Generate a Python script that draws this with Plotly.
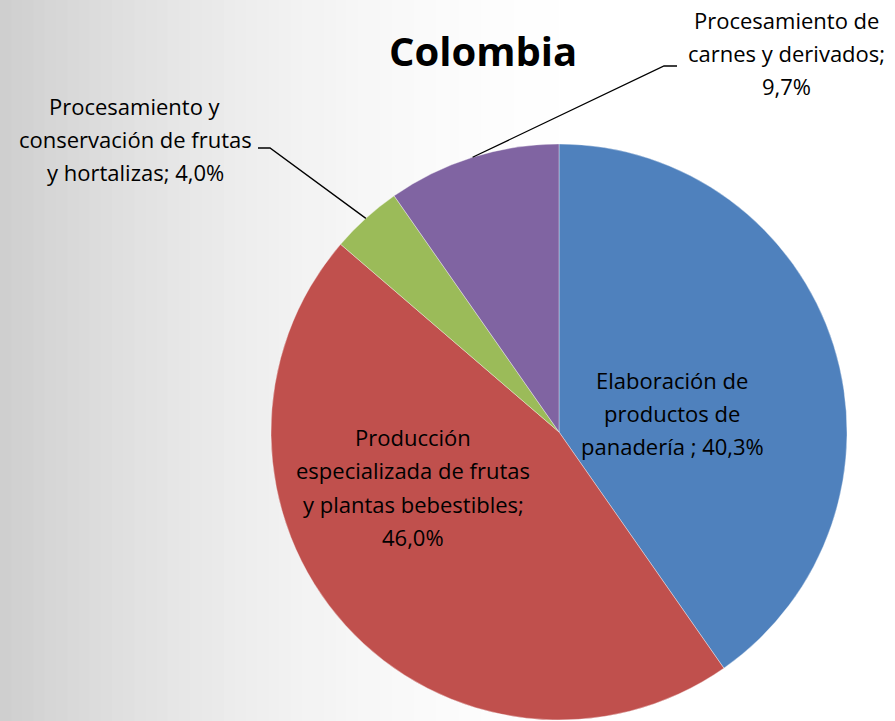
import math
import plotly.graph_objects as go

categories = [
    "Elaboración de productos de panadería ",
    "Producción especializada de frutas y plantas bebestibles",
    "Procesamiento y conservación de frutas y hortalizas",
    "Procesamiento de carnes y derivados",
]
values = [40.3, 46.0, 4.0, 9.7]
colors = ["#4F81BD", "#C0504D", "#9BBB59", "#8064A2"]
label_lines = [
    ["Elaboración de", "productos de", "panadería ; 40,3%"],
    ["Producción", "especializada de frutas", "y plantas bebestibles;", "46,0%"],
    ["Procesamiento y", "conservación de frutas", "y hortalizas; 4,0%"],
    ["Procesamiento de", "carnes y derivados;", "9,7%"],
]

W, H = 895, 721
cx, cy, r = 559, 432, 288  # pixel geometry of pie

FONT = "Open Sans"

fig = go.Figure()
fig.add_trace(go.Pie(
    labels=categories, values=values, sort=False, direction="clockwise",
    rotation=0, textinfo="none", hoverinfo="label+percent",
    marker=dict(colors=colors, line=dict(color="rgba(255,255,255,0.6)", width=0.6)),
    domain=dict(x=[(cx - r) / W, (cx + r) / W], y=[(H - cy - r) / H, (H - cy + r) / H]),
    showlegend=False,
))

# background gradient as vertical strips
shapes = []
n = 80
for i in range(n):
    x0 = i / n
    x1 = (i + 1) / n
    t = (i + 0.5) / n
    px = t * W
    frac = min(px / 620.0, 1.0)
    v = 206 + (255 - 206) * (1 - (1 - frac) ** 2)
    c = int(round(v))
    shapes.append(dict(type="rect", xref="paper", yref="paper", x0=x0, x1=x1 + 0.002,
                       y0=0, y1=1, fillcolor=f"rgb({c},{c},{c})", line=dict(width=0),
                       layer="below"))

# leader lines from slice midpoints (computed from data)
total = sum(values)
cum = 0
mids = []
for v in values:
    mids.append((cum + v / 2) / total * 2 * math.pi)
    cum += v

def edge_point(theta):
    return cx + r * math.sin(theta), cy - r * math.cos(theta)

def to_paper(px, py):
    return px / W, (H - py) / H

gx, gy = edge_point(mids[2])
pts_green = [(gx, gy), (270, 148), (258, 148)]
ux, uy = edge_point(mids[3])
pts_purple = [(ux, uy), (664, 66), (677, 66)]
for pts in (pts_green, pts_purple):
    path = ""
    for k, (px, py) in enumerate(pts):
        X, Y = to_paper(px, py)
        path += ("M" if k == 0 else " L") + f" {X} {Y}"
    shapes.append(dict(type="path", xref="paper", yref="paper", path=path,
                       line=dict(color="black", width=1.3), layer="above"))

annotations = [
    dict(text="<b>Colombia</b>", x=483 / W, y=(H - 51) / H, xref="paper", yref="paper",
         showarrow=False, font=dict(family=FONT, size=40, color="black"),
         xanchor="center", yanchor="middle"),
]
label_pos = [(672, 413), (413, 487), (135, 139), (786, 53)]
LINE = 33
for lines, (px, py) in zip(label_lines, label_pos):
    nl = len(lines)
    for k, txt in enumerate(lines):
        ly = py + (k - (nl - 1) / 2) * LINE
        annotations.append(dict(text=txt, x=px / W, y=(H - ly) / H, xref="paper", yref="paper",
                                showarrow=False, align="center",
                                font=dict(family=FONT, size=22, color="black"),
                                xanchor="center", yanchor="middle"))

fig.update_layout(
    width=W, height=H, margin=dict(l=0, r=0, t=0, b=0),
    paper_bgcolor="white", plot_bgcolor="white",
    shapes=shapes, annotations=annotations,
)
fig.write_html("out.html", config={"displayModeBar": False},
               post_script="document.body.style.margin='0';document.body.style.overflow='hidden';")
